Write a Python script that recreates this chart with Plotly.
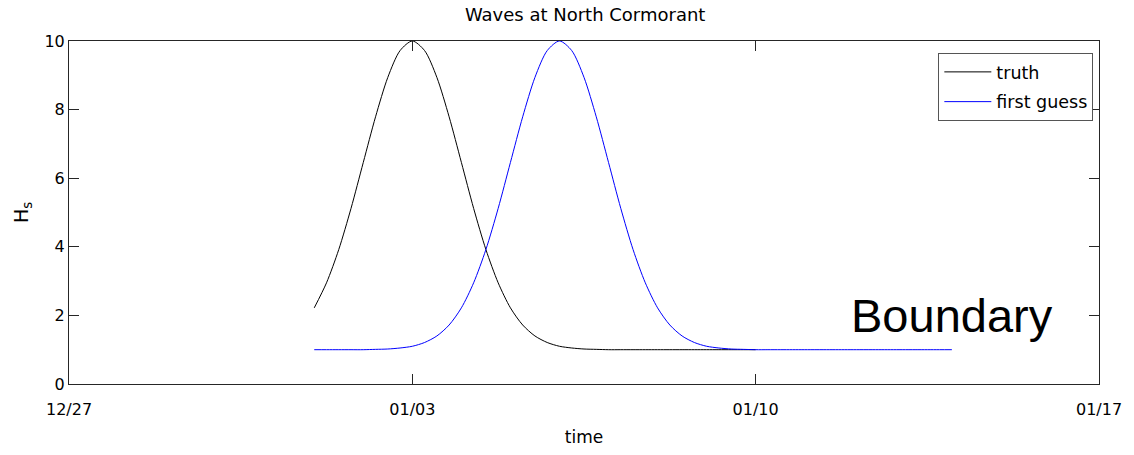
import pandas as pd
import plotly.graph_objects as go

# Significant wave height (m), sampled every 6 hours
truth_start = "2008-01-01 00:00"
truth_hs = [
    2.22, 2.95, 3.92, 5.12, 6.46, 7.79, 8.94, 9.72, 10.00,
    9.72, 8.94, 7.79, 6.46, 5.12, 3.92, 2.95, 2.22, 1.72,
    1.40, 1.21, 1.10, 1.05, 1.02, 1.01, 1.00, 1.00, 1.00,
    1.00, 1.00, 1.00, 1.00, 1.00, 1.00, 1.00, 1.00, 1.00, 1.00,
]

guess_start = "2008-01-01 00:00"
guess_hs = [
    1.00, 1.00, 1.00, 1.00, 1.00, 1.01, 1.02, 1.05, 1.10, 1.21,
    1.40, 1.72, 2.22, 2.95, 3.92, 5.12, 6.46, 7.79, 8.94, 9.72,
    10.00, 9.72, 8.94, 7.79, 6.46, 5.12, 3.92, 2.95, 2.22, 1.72,
    1.40, 1.21, 1.10, 1.05, 1.02, 1.01, 1.00, 1.00, 1.00, 1.00,
    1.00, 1.00, 1.00, 1.00, 1.00, 1.00, 1.00, 1.00, 1.00, 1.00,
    1.00, 1.00, 1.00,
]

x_ticks = ["2007-12-27", "2008-01-03", "2008-01-10", "2008-01-17"]
x_tick_labels = ["12/27", "01/03", "01/10", "01/17"]
y_ticks = [0, 2, 4, 6, 8, 10]

truth_time = pd.date_range(truth_start, periods=len(truth_hs), freq="6h")
guess_time = pd.date_range(guess_start, periods=len(guess_hs), freq="6h")

FONT = "DejaVu Sans"
AXIS_COLOR = "#262626"

fig = go.Figure()
fig.add_trace(go.Scatter(x=truth_time, y=truth_hs, mode="lines", name="truth",
                         legendgroup="truth",
                         line=dict(color="black", width=1, shape="spline", smoothing=0.8)))
fig.add_trace(go.Scatter(x=guess_time, y=guess_hs, mode="lines", name="first guess",
                         legendgroup="guess",
                         line=dict(color="#0000ff", width=1, shape="spline", smoothing=0.8)))

fig.add_annotation(x="2008-01-14", y=2.0, xref="x", yref="y", text="Boundary",
                   showarrow=False, xanchor="center", yanchor="middle",
                   font=dict(family="Liberation Sans", size=47, color="black"))

axis_common = dict(showline=True, linecolor=AXIS_COLOR, linewidth=1, mirror="ticks",
                   ticks="inside", ticklen=10, tickcolor=AXIS_COLOR, tickwidth=1,
                   showgrid=False, zeroline=False,
                   tickfont=dict(family=FONT, size=16, color="black"))

fig.update_layout(
    width=1134, height=455,
    margin=dict(l=69, r=32, t=41, b=71),
    paper_bgcolor="white", plot_bgcolor="white",
    title=dict(text="Waves at North Cormorant", x=0.516, xanchor="center",
               y=1 - 15 / 455, yanchor="middle", yref="container",
               font=dict(family=FONT, size=18, color="black")),
    xaxis=dict(range=[x_ticks[0], x_ticks[-1]], tickvals=x_ticks, ticktext=x_tick_labels,
               ticklabelstandoff=11,
               title=dict(text="time", standoff=12, font=dict(family=FONT, size=17, color="black")),
               **axis_common),
    yaxis=dict(range=[0, 10], tickvals=y_ticks,
               title=dict(text="H<sub>s</sub>", standoff=10, font=dict(family=FONT, size=19, color="black")),
               **axis_common),
    legend=dict(x=0.9945, y=0.965, xanchor="right", yanchor="top",
                bgcolor="white", bordercolor="#555555", borderwidth=1,
                itemwidth=47, entrywidth=169, tracegroupgap=4,
                font=dict(family=FONT, size=17.5, color="black")),
    showlegend=True,
)

fig.write_html("out.html")
